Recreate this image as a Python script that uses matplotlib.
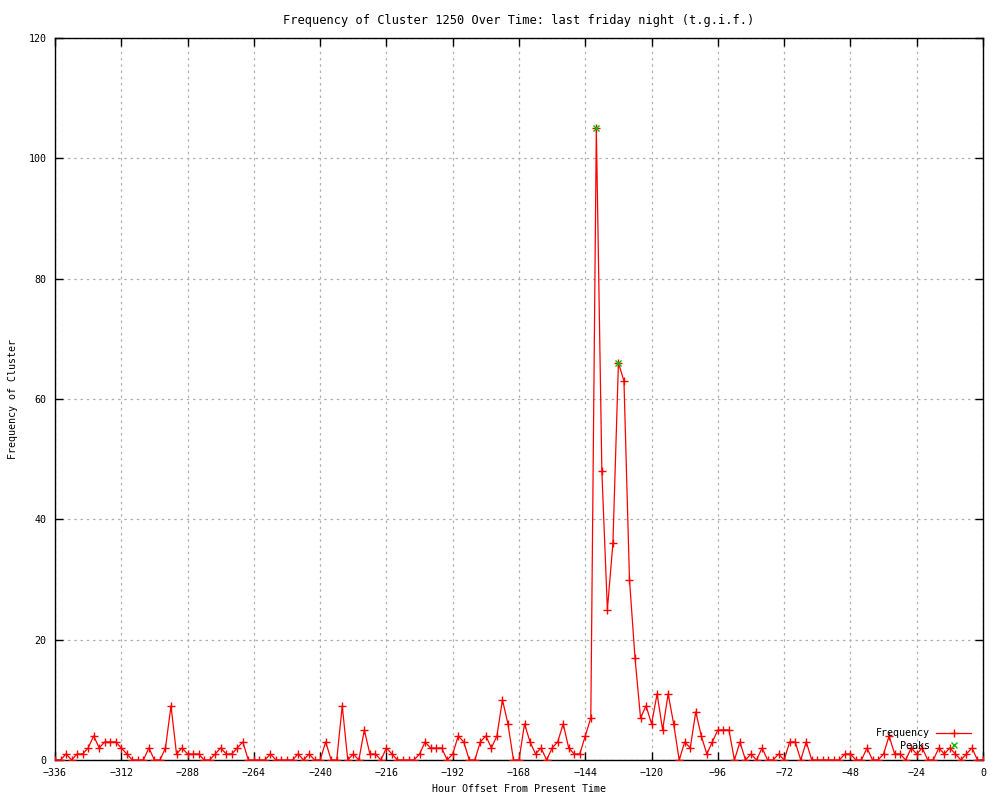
import numpy as np
import matplotlib
matplotlib.use('Agg')
import matplotlib.pyplot as plt

# hours before now, one sample every 2 hours
hours = np.arange(-336, 1, 2)
frequency = [
    0, 0, 1, 0, 1, 1, 2, 4, 2, 3, 3, 3, 2, 1, 0, 0, 0, 2, 0, 0,      # -336 .. -298
    2, 9, 1, 2, 1, 1, 1, 0, 0, 1, 2, 1, 1, 2, 3, 0, 0, 0, 0, 1,      # -296 .. -258
    0, 0, 0, 0, 1, 0, 1, 0, 0, 3, 0, 0, 9, 0, 1, 0, 5, 1, 1, 0,      # -256 .. -218
    2, 1, 0, 0, 0, 0, 1, 3, 2, 2, 2, 0, 1, 4, 3, 0, 0, 3, 4, 2,      # -216 .. -178
    4, 10, 6, 0, 0, 6, 3, 1, 2, 0, 2, 3, 6, 2, 1, 1, 4, 7, 105, 48,  # -176 .. -138
    25, 36, 66, 63, 30, 17, 7, 9, 6, 11, 5, 11, 6, 0, 3, 2, 8, 4, 1, 3,  # -136 .. -98
    5, 5, 5, 0, 3, 0, 1, 0, 2, 0, 0, 1, 0, 3, 3, 0, 3, 0, 0, 0,      # -96 .. -58
    0, 0, 0, 1, 1, 0, 0, 2, 0, 0, 1, 4, 1, 1, 0, 2, 1, 2, 0, 0,      # -56 .. -18
    2, 1, 2, 1, 0, 1, 2, 0, 0,                                        # -16 .. 0
]
peak_hours = [-140, -132]
peak_values = [105, 66]

title = 'Frequency of Cluster 1250 Over Time: last friday night (t.g.i.f.)'
xticks = list(range(-336, 1, 24))
yticks = list(range(0, 121, 20))

plt.rcParams['font.family'] = ['DejaVu Sans Mono']
plt.rcParams['font.size'] = 7.2

fig = plt.figure(figsize=(10, 8), dpi=100)
ax = fig.add_axes([0.055, 0.05, 0.928, 0.9025])

ax.plot(hours, frequency, color='#ff0000', lw=0.9, marker='+', ms=5.5,
        mew=1.0, label='Frequency', zorder=3)
ax.plot(peak_hours, peak_values, ls='none', color='#00c000', marker='x',
        ms=5, mew=1.0, label='Peaks', zorder=4)

ax.set_xlim(-336, 0)
ax.set_ylim(0, 120)
ax.set_xticks(xticks)
ax.set_yticks(yticks)
ax.tick_params(direction='in', top=True, right=True, length=6, width=1, pad=6)
ax.grid(True, color='#b0b0b0', ls=(0, (2, 3)), lw=0.9)
for s in ax.spines.values():
    s.set_linewidth(1)

ax.set_title(title, pad=10)
ax.set_xlabel('Hour Offset From Present Time', labelpad=4)
ax.set_ylabel('Frequency of Cluster', labelpad=8)

ax.legend(loc='lower right', frameon=False, markerfirst=False,
          handlelength=3.5, borderaxespad=0.3, labelspacing=0.25,
          handletextpad=0.6, bbox_to_anchor=(0.995, 0.003))

fig.savefig('out.png', dpi=100)
